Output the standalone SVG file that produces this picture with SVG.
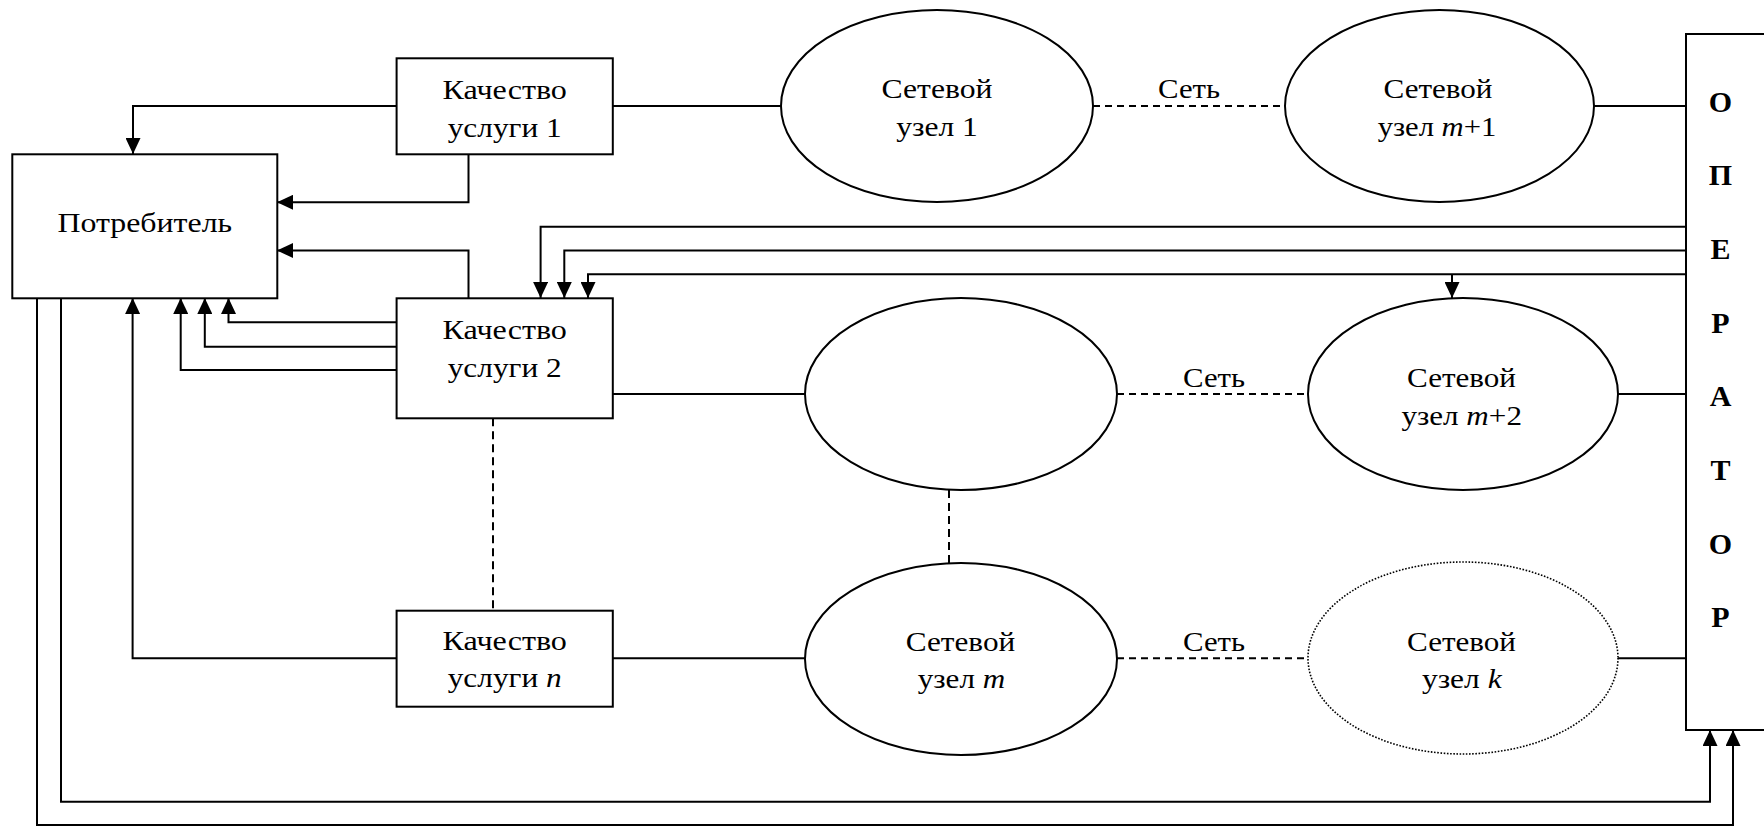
<svg xmlns="http://www.w3.org/2000/svg" width="1764" height="826" viewBox="0 0 1764 826">
  <style>
    .box { fill: #fff; stroke: #000; stroke-width: 2; }
    .node { fill: #fff; stroke: #000; stroke-width: 2; }
    .dotted { fill: #fff; stroke: #000; stroke-width: 1.6; stroke-dasharray: 1.6 1.6; }
    .wire { fill: none; stroke: #000; stroke-width: 2; }
    .arrow { fill: none; stroke: #000; stroke-width: 2; marker-end: url(#head); }
    .dash { fill: none; stroke: #000; stroke-width: 2; stroke-dasharray: 8 5; }
    .hdash { stroke-dasharray: 7 5; }
    .lbl { font-size: 28px; fill: #000; text-anchor: middle; }
    .op { font-weight: bold; font-size: 30px; }
    .it { font-style: italic; }
  </style>
  <defs>
    <marker id="head" markerUnits="userSpaceOnUse" markerWidth="16" markerHeight="15" refX="16" refY="7.5" orient="auto">
      <path d="M0,0 L16,7.5 L0,15 Z" fill="#000"/>
    </marker>
  </defs>
  <rect width="1764" height="826" fill="#fff"/>

  <g id="connectors">
    <!-- quality blocks to consumer -->
    <path class="arrow" d="M397 106 H133 V154"/>
    <path class="arrow" d="M468.5 154 V202.3 H277"/>
    <path class="arrow" d="M468.5 298 V250.5 H277"/>
    <path class="arrow" d="M397 322.3 H228.5 V298"/>
    <path class="arrow" d="M397 346.7 H204.8 V298"/>
    <path class="arrow" d="M397 370 H180.7 V298"/>
    <path class="arrow" d="M397 658.3 H132.6 V298"/>
    <!-- operator feedback to quality block 2 and node m+2 -->
    <path class="arrow" d="M1686 226.7 H540.6 V298"/>
    <path class="arrow" d="M1686 250.5 H564.3 V298"/>
    <path class="arrow" d="M1686 274.3 H588 V298"/>
    <path class="arrow" d="M1452 274.3 V298"/>
    <!-- consumer to operator -->
    <path class="arrow" d="M61 298 V801.7 H1710 V730"/>
    <path class="arrow" d="M37 298 V825 H1733 V730"/>
    <!-- row 1 -->
    <path class="wire" d="M613 106 H781"/>
    <path class="dash hdash" d="M1093 106 H1285"/>
    <path class="wire" d="M1594 106 H1686"/>
    <!-- row 2 -->
    <path class="wire" d="M613 394 H805"/>
    <path class="dash hdash" d="M1117 394 H1308"/>
    <path class="wire" d="M1618 394 H1686"/>
    <!-- row n -->
    <path class="wire" d="M613 658.3 H805"/>
    <path class="dash hdash" d="M1117 658.3 H1308"/>
    <path class="wire" d="M1618 658.3 H1686"/>
    <!-- vertical continuations -->
    <path class="dash" d="M493 418.3 V610.7"/>
    <path class="dash" d="M949 490 V563"/>
  </g>

  <g font-family="'Liberation Serif', 'Times New Roman', serif">
    <g id="link-labels">
      <text class="lbl" x="1189" y="98" textLength="62" lengthAdjust="spacingAndGlyphs">Сеть</text>
      <text class="lbl" x="1214" y="386.7" textLength="62" lengthAdjust="spacingAndGlyphs">Сеть</text>
      <text class="lbl" x="1214" y="650.7" textLength="62" lengthAdjust="spacingAndGlyphs">Сеть</text>
    </g>

    <g id="consumer">
      <rect class="box" x="12.3" y="154.3" width="265" height="144"/>
      <text class="lbl" x="144.8" y="231.7" textLength="174.6" lengthAdjust="spacingAndGlyphs">Потребитель</text>
    </g>

    <g id="quality-1">
      <rect class="box" x="396.6" y="58.3" width="216.2" height="96"/>
      <text class="lbl" x="504.7" y="99.3" textLength="124.4" lengthAdjust="spacingAndGlyphs">Качество</text>
      <text class="lbl" x="504.7" y="136.7" textLength="114" lengthAdjust="spacingAndGlyphs">услуги 1</text>
    </g>

    <g id="quality-2">
      <rect class="box" x="396.6" y="298.3" width="216.2" height="120"/>
      <text class="lbl" x="504.7" y="339.3" textLength="124.4" lengthAdjust="spacingAndGlyphs">Качество</text>
      <text class="lbl" x="504.7" y="376.7" textLength="114" lengthAdjust="spacingAndGlyphs">услуги 2</text>
    </g>

    <g id="quality-n">
      <rect class="box" x="396.6" y="610.7" width="216.2" height="96"/>
      <text class="lbl" x="504.7" y="650" textLength="124.4" lengthAdjust="spacingAndGlyphs">Качество</text>
      <text class="lbl" x="504.7" y="687.3" textLength="114" lengthAdjust="spacingAndGlyphs">услуги <tspan class="it">n</tspan></text>
    </g>

    <g id="node-1">
      <ellipse class="node" cx="937" cy="106" rx="156" ry="96"/>
      <text class="lbl" x="937" y="98.3" textLength="111" lengthAdjust="spacingAndGlyphs">Сетевой</text>
      <text class="lbl" x="937" y="136" textLength="81.7" lengthAdjust="spacingAndGlyphs">узел 1</text>
    </g>

    <g id="node-m1">
      <ellipse class="node" cx="1439.5" cy="106" rx="154.5" ry="96"/>
      <text class="lbl" x="1438" y="98.3" textLength="109" lengthAdjust="spacingAndGlyphs">Сетевой</text>
      <text class="lbl" x="1437" y="136" textLength="118.7" lengthAdjust="spacingAndGlyphs">узел <tspan class="it">m</tspan>+1</text>
    </g>

    <g id="node-2">
      <ellipse class="node" cx="961" cy="394" rx="156" ry="96"/>
    </g>

    <g id="node-m2">
      <ellipse class="node" cx="1463" cy="394" rx="155" ry="96"/>
      <text class="lbl" x="1461.5" y="386.7" textLength="109" lengthAdjust="spacingAndGlyphs">Сетевой</text>
      <text class="lbl" x="1461.7" y="425" textLength="120.6" lengthAdjust="spacingAndGlyphs">узел <tspan class="it">m</tspan>+2</text>
    </g>

    <g id="node-m">
      <ellipse class="node" cx="961" cy="659" rx="156" ry="96"/>
      <text class="lbl" x="960.5" y="650.7" textLength="109.4" lengthAdjust="spacingAndGlyphs">Сетевой</text>
      <text class="lbl" x="961.5" y="688.3" textLength="87.5" lengthAdjust="spacingAndGlyphs">узел <tspan class="it">m</tspan></text>
    </g>

    <g id="node-k">
      <ellipse class="dotted" cx="1463" cy="658" rx="155" ry="96"/>
      <text class="lbl" x="1461.5" y="650.7" textLength="109" lengthAdjust="spacingAndGlyphs">Сетевой</text>
      <text class="lbl" x="1461.8" y="688.3" textLength="79.7" lengthAdjust="spacingAndGlyphs">узел <tspan class="it">k</tspan></text>
    </g>

    <g id="operator">
      <rect class="box" x="1686" y="34" width="100" height="696"/>
      <text class="lbl op" x="1720.5" y="111.7">О</text>
      <text class="lbl op" x="1720.5" y="184.5">П</text>
      <text class="lbl op" x="1720.5" y="258.5">Е</text>
      <text class="lbl op" x="1720.5" y="332.5">Р</text>
      <text class="lbl op" x="1720.5" y="406">А</text>
      <text class="lbl op" x="1720.5" y="480">Т</text>
      <text class="lbl op" x="1720.5" y="554">О</text>
      <text class="lbl op" x="1720.5" y="626.7">Р</text>
    </g>
  </g>
</svg>
